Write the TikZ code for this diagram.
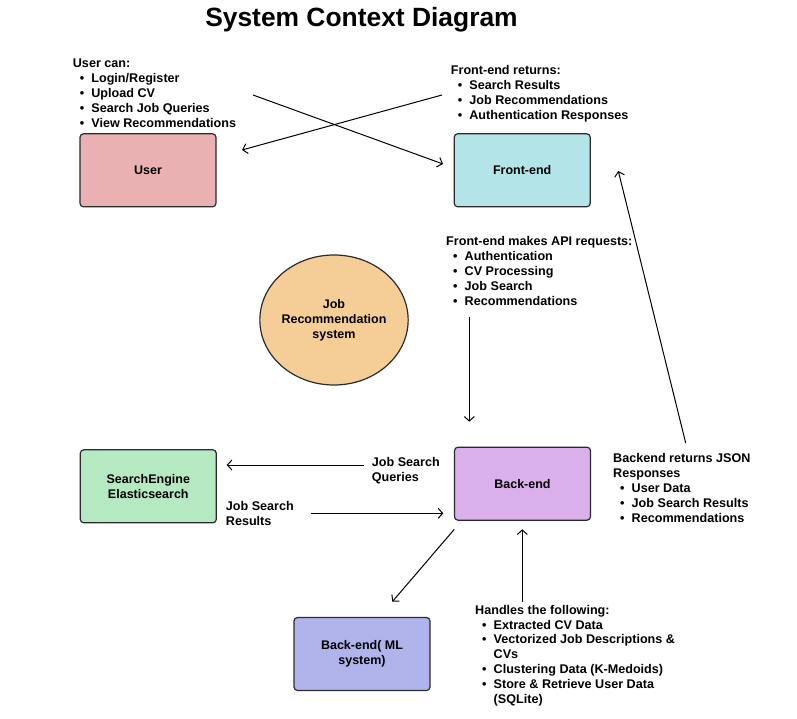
\documentclass[tikz,border=0pt]{standalone}
\usepackage{fontspec}
\setmainfont{Liberation Sans}
\usetikzlibrary{arrows.meta,shapes.geometric}
\definecolor{userfill}{HTML}{E9B1B1}
\definecolor{frontfill}{HTML}{B3E4E8}
\definecolor{backfill}{HTML}{D9B0E9}
\definecolor{searchfill}{HTML}{B4E9C1}
\definecolor{mlfill}{HTML}{B1B4EB}
\definecolor{circfill}{HTML}{F5CE97}
\definecolor{edge}{HTML}{2B2B2B}
\newcommand{\bitem}{\hspace*{7pt}\makebox[11.5pt][l]{•}}
\tikzset{
  sysbox/.style={draw=edge, line width=1.2pt, rounded corners=3.5pt, minimum width=136pt, minimum height=73pt, inner sep=0pt, font=\bfseries\fontsize{12.5}{15}\selectfont, align=center},
  lbl/.style={anchor=north west, inner sep=0pt, align=left, font=\bfseries\fontsize{12.6}{15}\selectfont},
  conn/.style={draw=black, line width=1pt, -{Straight Barb[length=4.5pt,width=10pt]}}
}
\begin{document}
\begin{tikzpicture}[x=1pt,y=-1pt]
\useasboundingbox[fill=white] (0,0) rectangle (797,719);
\node[anchor=base, inner sep=0pt, font=\bfseries\fontsize{26.4}{30}\selectfont] (title) at (361.5,26.7) {System Context Diagram};

\node[sysbox, fill=userfill] (user) at (148,170.3) {User};
\node[sysbox, fill=frontfill] (front) at (522.2,170.3) {Front-end};
\node[sysbox, fill=backfill] (back) at (522.5,483.7) {Back-end};
\node[sysbox, fill=searchfill] (search) at (148.3,486.3) {SearchEngine\\Elasticsearch};
\node[sysbox, fill=mlfill] (ml) at (362,654) {Back-end( ML\\system)};
\node[draw=edge, line width=1.2pt, fill=circfill, ellipse, minimum width=136pt, minimum height=130pt, inner sep=0pt, align=center, font=\bfseries\fontsize{12.5}{15}\selectfont] (sys) at (334,320) {Job\\Recommendation\\system};

\node[lbl] (usercan) at (72.7,58.5) {User can:\\\bitem Login/Register\\\bitem Upload CV\\\bitem Search Job Queries\\\bitem View Recommendations};
\node[lbl] (frontret) at (450.7,65.5) {Front-end returns:\\\bitem Search Results\\\bitem Job Recommendations\\\bitem Authentication Responses};
\node[lbl] (frontapi) at (446,236.5) {Front-end makes API requests:\\\bitem Authentication\\\bitem CV Processing\\\bitem Job Search\\\bitem Recommendations};
\node[lbl] (jsq) at (371.7,457) {Job Search\\Queries};
\node[lbl] (jsr) at (225.7,501) {Job Search\\Results};
\node[lbl] (backret) at (613,453) {Backend returns JSON\\Responses\\\bitem User Data\\\bitem Job Search Results\\\bitem Recommendations};
\node[lbl, font=\bfseries\fontsize{12.6}{14.8}\selectfont] (handles) at (475,605) {Handles the following:\\\bitem Extracted CV Data\\\bitem Vectorized Job Descriptions \&\\\hspace*{18.5pt}CVs\\\bitem Clustering Data (K-Medoids)\\\bitem Store \& Retrieve User Data\\\hspace*{18.5pt}(SQLite)};

\coordinate (a1s) at (253,95);   \coordinate (a1e) at (443,164);
\coordinate (a2s) at (442,95);   \coordinate (a2e) at (242,150);
\coordinate (a3s) at (469.3,317.3); \coordinate (a3e) at (469.3,421.7);
\coordinate (a4s) at (685.7,443); \coordinate (a4e) at (618.3,171);
\coordinate (a5s) at (364,465);  \coordinate (a5e) at (226.7,465);
\coordinate (a6s) at (310.7,513.3); \coordinate (a6e) at (443.3,513.3);
\coordinate (a7s) at (454.3,529.3); \coordinate (a7e) at (392.3,601.7);
\coordinate (a8s) at (522.3,601.7); \coordinate (a8e) at (522.3,529.3);

\draw[conn] (a1s) -- (a1e);
\draw[conn] (a2s) -- (a2e);
\draw[conn] (a3s) -- (a3e);
\draw[conn] (a4s) -- (a4e);
\draw[conn] (a5s) -- (a5e);
\draw[conn] (a6s) -- (a6e);
\draw[conn] (a7s) -- (a7e);
\draw[conn] (a8s) -- (a8e);
\end{tikzpicture}
\end{document}
